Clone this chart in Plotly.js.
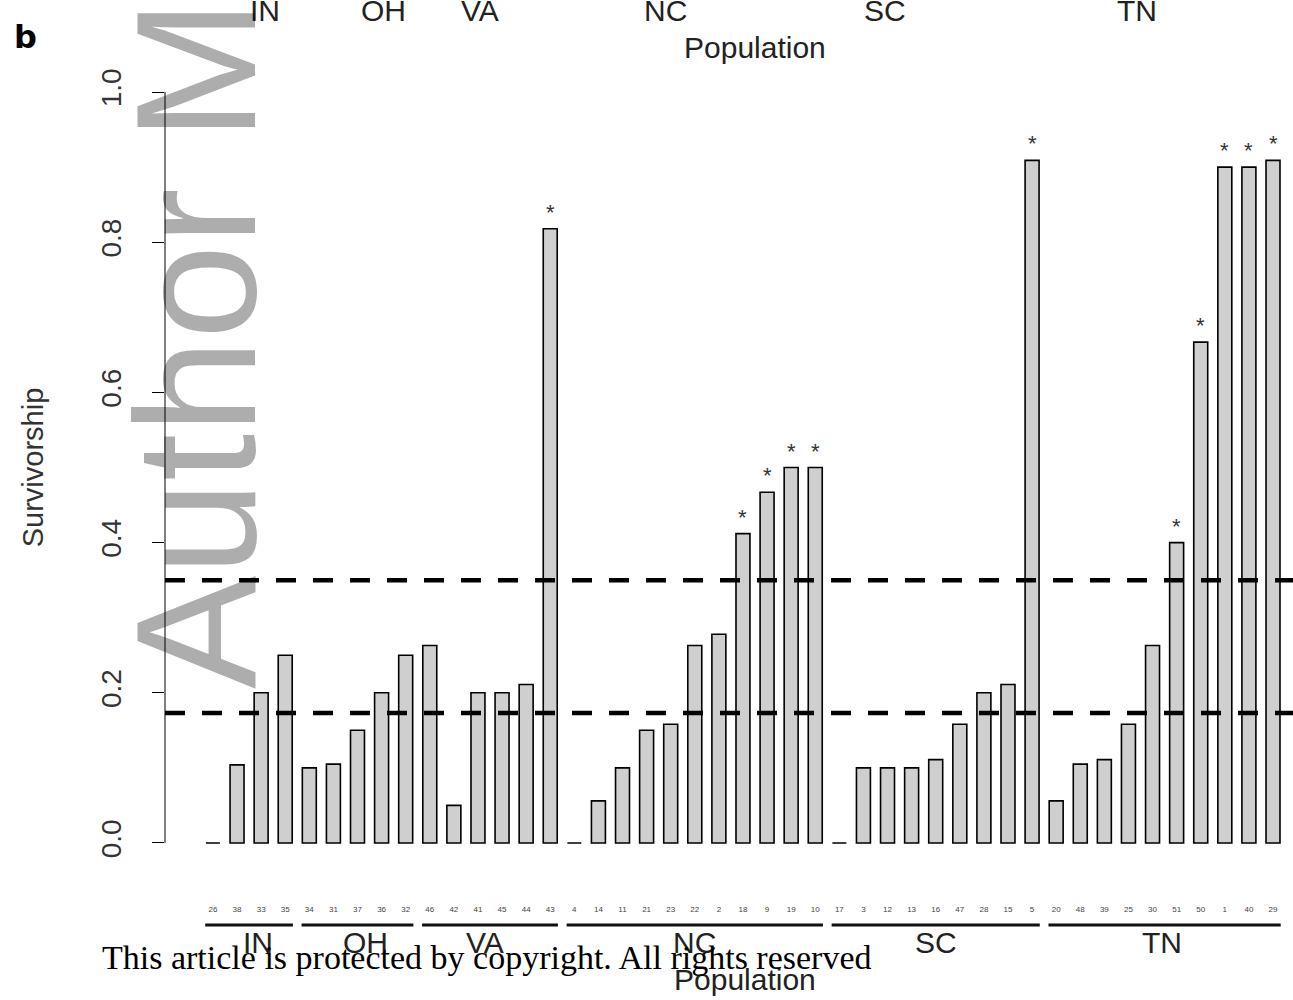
<!DOCTYPE html>
<html><head><meta charset="utf-8">
<script src="https://cdn.plot.ly/plotly-3.0.1.min.js"></script>
<style>html,body{margin:0;padding:0;background:#fff;}#chart{width:1293px;height:1000px;}</style>
</head><body><div id="chart"></div>
<script>
// ---- data ----
const groups = ["IN", "OH", "VA", "NC", "SC", "TN"];
const groupSizes = [4, 5, 6, 11, 9, 10];
const popLabels = [
  "26","38","33","35",
  "34","31","37","36","32",
  "46","42","41","45","44","43",
  "4","14","11","21","23","22","2","18","9","19","10",
  "17","3","12","13","16","47","28","15","5",
  "20","48","39","25","30","51","50","1","40","29"
];
const survivorship = [
  0, 0.104, 0.2, 0.25,
  0.1, 0.105, 0.15, 0.2, 0.25,
  0.263, 0.05, 0.2, 0.2, 0.211, 0.818,
  0, 0.056, 0.1, 0.15, 0.158, 0.263, 0.278, 0.412, 0.467, 0.5, 0.5,
  0, 0.1, 0.1, 0.1, 0.111, 0.158, 0.2, 0.211, 0.909,
  0.056, 0.105, 0.111, 0.158, 0.263, 0.4, 0.667, 0.9, 0.9, 0.909
];
const significant = [
  0,0,0,0,
  0,0,0,0,0,
  0,0,0,0,0,1,
  0,0,0,0,0,0,0,1,1,1,1,
  0,0,0,0,0,0,0,0,1,
  0,0,0,0,0,1,1,1,1,1
];
const thresholds = [0.35, 0.173];
const yTickVals = [0, 0.2, 0.4, 0.6, 0.8, 1.0];
const yTickText = ["0.0", "0.2", "0.4", "0.6", "0.8", "1.0"];

// ---- layout helpers ----
const W = 1293, H = 1000;
const ML = 165, MR = 0, MT = 62, MB = 127;
const plotW = W - ML - MR, plotH = H - MT - MB;
const px2x = p => (p - ML) / plotW;
const py2y = p => (H - MB - p) / plotH;

const positions = popLabels.map((_, i) => i + 1);

const sans = "Liberation Sans, Arial, Helvetica, sans-serif";

const trace = {
  type: "bar",
  x: positions,
  y: survivorship,
  width: 0.58,
  marker: { color: "#cfcfcf", line: { color: "#000", width: 1.6 } },
  hoverinfo: "skip"
};

const shapes = [];
// y axis line from 0 to 1 only (base R style)
shapes.push({ type: "line", xref: "paper", yref: "y", x0: 0, x1: 0, y0: 0, y1: 1,
  line: { color: "#000", width: 1 } });
// threshold dashed lines
thresholds.forEach(t => shapes.push({ type: "line", xref: "paper", yref: "y", x0: 0, x1: 1, y0: t, y1: t,
  line: { color: "#000", width: 4.5, dash: "20px,17px" } }));

const annotations = [];
// group underlines + labels
let start = 1;
const labelNudge = [9, 8, -5, 0, 0, -3];
groups.forEach((g, gi) => {
  const end = start + groupSizes[gi] - 1;
  shapes.push({ type: "line", xref: "x", yref: "paper", x0: start - 0.32, x1: end + 0.32,
    y0: py2y(925), y1: py2y(925), line: { color: "#111", width: 3 } });
  annotations.push({ xref: "x", yref: "paper", x: (start + end) / 2, y: py2y(942), xshift: labelNudge[gi],
    text: g, showarrow: false, xanchor: "center", yanchor: "middle",
    font: { family: sans, size: 30, color: "#222" } });
  start = end + 1;
});
annotations.push({ xref: "paper", yref: "paper", x: px2x(745), y: py2y(979), text: "Population",
  showarrow: false, xanchor: "center", yanchor: "middle", font: { family: sans, size: 30, color: "#222" } });

// significance asterisks
positions.forEach((p, i) => {
  if (significant[i]) annotations.push({ xref: "x", yref: "y", x: p, y: survivorship[i], text: "*",
    showarrow: false, xanchor: "center", yanchor: "bottom", yshift: 2,
    font: { family: sans, size: 22, color: "#333" } });
});

// remnants of panel above
const topX = [265, 383, 480, 665, 885, 1137];
groups.forEach((g, gi) => annotations.push({ xref: "paper", yref: "paper", x: px2x(topX[gi]), y: py2y(10),
  text: g, showarrow: false, xanchor: "center", yanchor: "middle",
  font: { family: sans, size: 30, color: "#222" } }));
annotations.push({ xref: "paper", yref: "paper", x: px2x(755), y: py2y(47), text: "Population",
  showarrow: false, xanchor: "center", yanchor: "middle", font: { family: sans, size: 30, color: "#222" } });
// panel letter
annotations.push({ xref: "paper", yref: "paper", x: px2x(25), y: py2y(37), text: "<b>b</b>",
  showarrow: false, xanchor: "center", yanchor: "middle", font: { family: "DejaVu Sans", size: 32, color: "#000" } });
// copyright line
annotations.push({ xref: "paper", yref: "paper", x: px2x(100), y: py2y(957),
  text: "This article is protected by copyright. All rights reserved",
  showarrow: false, xanchor: "left", yanchor: "middle",
  font: { family: "Liberation Serif, Times New Roman, serif", size: 34, color: "#000" } });
// watermark
annotations.push({ xref: "paper", yref: "paper", x: px2x(196), y: py2y(691),
  text: "Author Manuscript", textangle: -90, showarrow: false, xanchor: "center", yanchor: "bottom",
  font: { family: sans, size: 170, color: "rgba(0,0,0,0.32)" } });

const layout = {
  width: W, height: H,
  margin: { l: ML, r: MR, t: MT, b: MB, pad: 0 },
  paper_bgcolor: "#fff", plot_bgcolor: "#fff",
  showlegend: false,
  bargap: 0.4,
  xaxis: {
    range: [-0.99, 45.83], tickvals: positions, ticktext: popLabels, tickangle: 0,
    showgrid: false, zeroline: false, showline: false, ticks: "",
    tickfont: { family: sans, size: 8, color: "#444" }, ticklabelstandoff: 30, fixedrange: true
  },
  yaxis: {
    range: [-0.04, 1.04], tickvals: yTickVals, ticktext: yTickText, tickangle: -90,
    showgrid: false, zeroline: false, showline: false,
    ticks: "outside", ticklen: 12, tickwidth: 1, tickcolor: "#000",
    tickfont: { family: sans, size: 28, color: "#333" }, ticklabelstandoff: 20,
    title: { text: "Survivorship", font: { family: sans, size: 29, color: "#333" }, standoff: 43 },
    fixedrange: true
  },
  shapes: shapes,
  annotations: annotations
};

Plotly.newPlot("chart", [trace], layout, { displayModeBar: false, staticPlot: true });
</script>
</body></html>
